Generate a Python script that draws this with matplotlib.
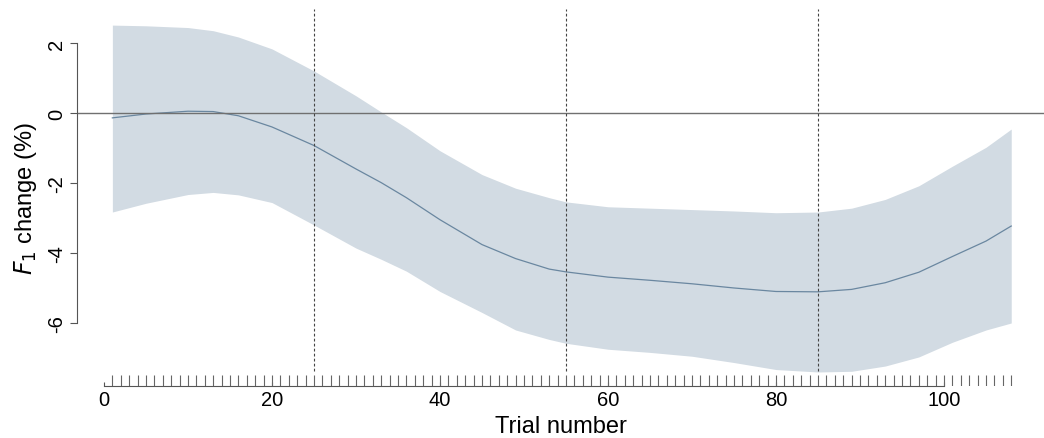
import matplotlib
matplotlib.use("Agg")
import matplotlib.pyplot as plt
import numpy as np

plt.rcParams['font.family'] = ['Liberation Sans', 'DejaVu Sans']

# smooth estimate of F1 change and its confidence band
trial = np.array([1, 5, 10, 13, 16, 20, 25, 30, 33, 36, 40, 45, 49, 53, 55,
                  60, 65, 70, 75, 80, 85, 89, 93, 97, 101, 105, 108])
fit = np.array([-0.14, -0.03, 0.05, 0.04, -0.08, -0.40, -0.93, -1.60, -1.99,
                -2.42, -3.05, -3.76, -4.16, -4.46, -4.54, -4.69, -4.78, -4.88,
                -5.00, -5.10, -5.11, -5.04, -4.85, -4.55, -4.10, -3.66, -3.23])
upper = np.array([2.51, 2.49, 2.44, 2.35, 2.17, 1.83, 1.20, 0.49, 0.03, -0.42,
                  -1.08, -1.76, -2.15, -2.42, -2.54, -2.68, -2.72, -2.76, -2.80,
                  -2.85, -2.83, -2.72, -2.47, -2.08, -1.52, -0.98, -0.46])
lower = np.array([-2.83, -2.58, -2.33, -2.27, -2.34, -2.56, -3.20, -3.86, -4.18,
                  -4.52, -5.10, -5.70, -6.20, -6.47, -6.58, -6.75, -6.84, -6.95,
                  -7.13, -7.33, -7.40, -7.38, -7.23, -6.97, -6.55, -6.20, -6.00])

# rug: one tick per trial
rug_trials = np.arange(1, 109)
# block boundaries
breaks = [25, 55, 85]

xticks = [0, 20, 40, 60, 80, 100]
yticks = [-6, -4, -2, 0, 2]

fig = plt.figure(figsize=(10.44, 4.39), dpi=100)
ax = fig.add_axes([77 / 1044, 52 / 439, 967 / 1044, 377 / 439])

ax.fill_between(trial, lower, upper, color='#d2dbe3', lw=0)
ax.plot(trial, fit, color='#6a87a0', lw=0.9)
ax.axhline(0, color='#707070', lw=1)
ax.vlines(breaks, -7.37, 2.97, colors='#444444', lw=0.8, linestyles=(0, (2.5, 2)))

# rug along the bottom of the plotting region
ax.vlines(rug_trials, -7.8, -7.49, colors='#666666', lw=0.8)

ax.set_xlim(-3.21, 111.9)
ax.set_ylim(-7.8, 2.97)

for s in ['top', 'right']:
    ax.spines[s].set_visible(False)
ax.spines['left'].set_bounds(-6, 2)
ax.spines['bottom'].set_bounds(0, 100)
ax.spines['left'].set_color('#555555')
ax.spines['bottom'].set_color('#555555')

ax.set_xticks(xticks)
ax.set_yticks(yticks)
ax.set_yticklabels([str(v) for v in yticks], rotation=90, va='center')
ax.tick_params(axis='x', direction='in', length=3, color='#555555', labelsize=14.5, pad=3)
ax.tick_params(axis='y', direction='out', length=5, color='#555555', labelsize=14.5, pad=3)

ax.set_xlabel('Trial number', fontsize=17, labelpad=4)
ax.set_ylabel(r'$\mathit{F}_1$ change (%)', fontsize=17, labelpad=6)

fig.savefig('out.png', dpi=100)
